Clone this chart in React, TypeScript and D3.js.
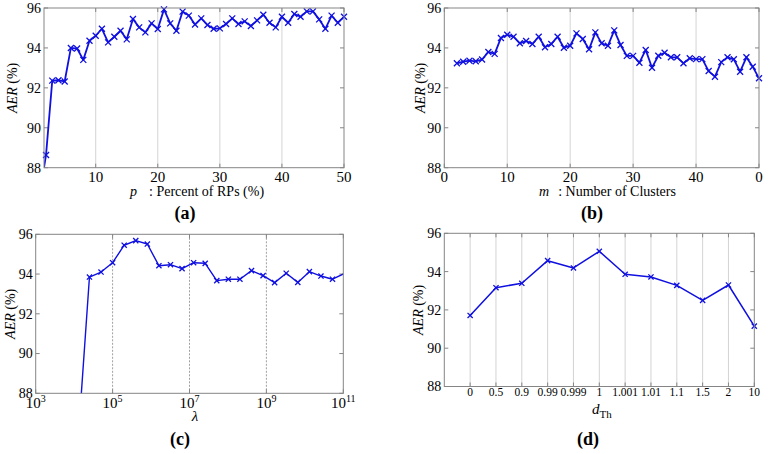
import React from "react";
import * as d3 from "d3";

// ---------- data ----------
const yTicks = [88, 90, 92, 94, 96];

// (a) p : Percent of RPs (%)
const aP = d3.range(1, 51);
const aAER = [
  86.7, 88.64, 92.36, 92.38, 92.32, 94.0, 93.97, 93.4, 94.36, 94.61,
  94.96, 94.28, 94.56, 94.86, 94.43, 95.45, 95.03, 94.78, 95.23, 94.95,
  95.93, 95.23, 94.86, 95.82, 95.62, 95.17, 95.48, 95.15, 94.96, 94.98,
  95.2, 95.48, 95.2, 95.33, 95.1, 95.38, 95.66, 95.26, 95.03, 95.56,
  95.26, 95.7, 95.56, 95.83, 95.83, 95.43, 94.96, 95.62, 95.26, 95.56,
];
const aTicks = [10, 20, 30, 40, 50];

// (b) m : Number of Clusters
const bM = d3.range(2, 51);
const bAER = [
  93.23, 93.31, 93.36, 93.33, 93.42, 93.8, 93.7, 94.5, 94.66,
  94.56, 94.23, 94.35, 94.2, 94.56, 94.03, 94.2, 94.56, 94.01, 94.11,
  94.73, 94.45, 93.93, 94.78, 94.23, 94.11, 94.88, 94.15, 93.6, 93.6,
  93.26, 93.9, 93.01, 93.61, 93.76, 93.53, 93.53, 93.23, 93.48, 93.44,
  93.44, 92.84, 92.56, 93.29, 93.53, 93.43, 92.81, 93.53, 93.06, 92.48,
];
const bTicks = [0, 10, 20, 30, 40, 50];
const bTickLabels = ["0", "10", "20", "30", "40", "0"];

// (c) lambda
const cLambda = [
  12500, 25000, 50000, 1e5, 2e5, 4e5, 8e5, 1.6e6, 3.2e6, 6.4e6, 1.28e7,
  2.56e7, 5.12e7, 1.024e8, 2.048e8, 4.096e8, 8.192e8, 1.6384e9, 3.2768e9,
  6.5536e9, 1.31072e10, 2.62144e10, 5.24288e10, 1.048576e11,
];
const cAER = [
  85.5, 93.85, 94.1, 94.57, 95.45, 95.68, 95.51, 94.42, 94.47, 94.27, 94.57,
  94.54, 93.67, 93.74, 93.74, 94.17, 93.92, 93.57, 94.04, 93.58, 94.12,
  93.9, 93.74, 94.02,
];
const cTickExp = [3, 5, 7, 9, 11];

// (d) d_Th
const dCats = ["0", "0.5", "0.9", "0.99", "0.999", "1", "1.001", "1.01", "1.1", "1.5", "2", "10"];
const dAER = [91.71, 93.16, 93.39, 94.57, 94.19, 95.06, 93.86, 93.72, 93.28, 92.5, 93.3, 91.15];

// ---------- style ----------
const BLUE = "#1010e0";
const AXIS = "#858585";
const TXT: React.CSSProperties = { fontFamily: "Liberation Serif" };

type PanelProps = {
  id: string;
  left: number;
  right: number;
  top: number;
  bottom: number;
  xs: number[];
  ys: number[];
  xScale: (v: number) => number;
  xDomain: [number, number];
  xTickVals: number[];
  xTickLabels: React.ReactNode[];
  xTickFont: number;
  xTickBaseline: number;
  gridVals: number[];
  gridStroke: string;
  gridDash?: string;
  markerR: number;
  lineW: number;
  yLabelX: number;
  children?: React.ReactNode;
};

function Panel(p: PanelProps) {
  const y = d3.scaleLinear().domain([88, 96]).range([p.bottom, p.top]);
  const pts: [number, number][] = p.xs.map((v, i) => [p.xScale(v), y(p.ys[i])]);
  const line = d3.line<[number, number]>().x((d) => d[0]).y((d) => d[1]);
  const cy = (p.top + p.bottom) / 2;
  const inDom = (v: number) => v >= p.xDomain[0] - 1e-9 && v <= p.xDomain[1] + 1e-9;
  return (
    <g>
      <defs>
        <clipPath id={p.id}>
          <rect x={p.left} y={p.top} width={p.right - p.left} height={p.bottom - p.top} />
        </clipPath>
      </defs>
      <rect x={p.left} y={p.top} width={p.right - p.left} height={p.bottom - p.top} fill="#fff" />
      {p.gridVals.map((g) => (
        <line
          key={"g" + g}
          x1={p.xScale(g)}
          x2={p.xScale(g)}
          y1={p.top}
          y2={p.bottom}
          stroke={p.gridStroke}
          strokeWidth={1}
          strokeDasharray={p.gridDash}
        />
      ))}
      {yTicks.map((t) => (
        <g key={"y" + t}>
          <line x1={p.left} x2={p.left + 4} y1={y(t)} y2={y(t)} stroke={AXIS} />
          <line x1={p.right} x2={p.right - 4} y1={y(t)} y2={y(t)} stroke={AXIS} />
          <text x={p.left - 3} y={y(t)} dy="0.35em" textAnchor="end" fontSize={14} style={TXT}>
            {t}
          </text>
        </g>
      ))}
      {p.xTickVals.map((t, i) => (
        <g key={"x" + t}>
          <line x1={p.xScale(t)} x2={p.xScale(t)} y1={p.bottom} y2={p.bottom - 4} stroke={AXIS} />
          <line x1={p.xScale(t)} x2={p.xScale(t)} y1={p.top} y2={p.top + 4} stroke={AXIS} />
          <text x={p.xScale(t)} y={p.xTickBaseline} textAnchor="middle" fontSize={p.xTickFont} style={TXT}>
            {p.xTickLabels[i]}
          </text>
        </g>
      ))}
      <g clipPath={`url(#${p.id})`}>
        <path d={line(pts) || ""} fill="none" stroke={BLUE} strokeWidth={p.lineW} strokeLinejoin="round" />
      </g>
      {pts.map((d, i) =>
        inDom(p.xs[i]) && p.ys[i] >= 88 ? (
          <path
            key={"m" + i}
            d={`M${d[0] - p.markerR},${d[1] - p.markerR}L${d[0] + p.markerR},${d[1] + p.markerR}M${d[0] - p.markerR},${d[1] + p.markerR}L${d[0] + p.markerR},${d[1] - p.markerR}`}
            stroke={BLUE}
            strokeWidth={1.3}
          />
        ) : null
      )}
      <rect
        x={p.left}
        y={p.top}
        width={p.right - p.left}
        height={p.bottom - p.top}
        fill="none"
        stroke={AXIS}
        strokeWidth={1}
      />
      <text
        transform={`translate(${p.yLabelX},${cy}) rotate(-90)`}
        textAnchor="middle"
        dy="0.35em"
        fontSize={14}
        style={TXT}
      >
        <tspan fontStyle="italic">AER</tspan> (%)
      </text>
      {p.children}
    </g>
  );
}

function PanelLabel({ x, y, t }: { x: number; y: number; t: string }) {
  return (
    <text x={x} y={y} textAnchor="middle" fontSize={18} fontWeight="bold" style={TXT}>
      ({t})
    </text>
  );
}

export default function App() {
  const W = 769;
  const H = 454;

  const ax = d3.scaleLinear().domain([1.67, 50]).range([44, 344]);
  const bx = d3.scaleLinear().domain([0, 50]).range([444.3, 759]);
  const cx = d3.scaleLog().domain([1e3, 1e11]).range([35.7, 343.3]);
  const dx = d3.scaleLinear().domain([-1, 11]).range([444.3, 754.3]);
  const dIdx = dCats.map((_, i) => i);

  return (
    <svg width={W} height={H} style={{ position: "absolute", left: 0, top: 0, background: "#fff" }}>
      <rect width={W} height={H} fill="#fff" />
      <Panel
        id="clipA"
        left={44}
        right={344}
        top={8}
        bottom={167.7}
        xs={aP}
        ys={aAER}
        xScale={ax}
        xDomain={[1.67, 50]}
        xTickVals={aTicks}
        xTickLabels={aTicks.map(String)}
        xTickFont={15}
        xTickBaseline={182}
        gridVals={[10, 20, 30, 40]}
        gridStroke="#d4d4d4"
        markerR={3}
        lineW={1.8}
        yLabelX={12}
      >
        <text x={130} y={196} fontSize={14} style={TXT}>
          <tspan fontStyle="italic">p</tspan>
          <tspan dx={12}>: Percent of RPs (%)</tspan>
        </text>
      </Panel>
      <PanelLabel x={185} y={219} t="a" />

      <Panel
        id="clipB"
        left={444.3}
        right={759}
        top={8}
        bottom={167.7}
        xs={bM}
        ys={bAER}
        xScale={bx}
        xDomain={[0, 50]}
        xTickVals={bTicks}
        xTickLabels={bTickLabels}
        xTickFont={15}
        xTickBaseline={182}
        gridVals={[10, 20, 30, 40]}
        gridStroke="#d4d4d4"
        markerR={3}
        lineW={1.8}
        yLabelX={420}
      >
        <text x={539} y={196} fontSize={14} style={TXT}>
          <tspan fontStyle="italic">m</tspan>
          <tspan dx={9}>: Number of Clusters</tspan>
        </text>
      </Panel>
      <PanelLabel x={592} y={219} t="b" />

      <Panel
        id="clipC"
        left={35.7}
        right={343.3}
        top={234.3}
        bottom={393.3}
        xs={cLambda}
        ys={cAER}
        xScale={cx}
        xDomain={[1e3, 1e11]}
        xTickVals={cTickExp.map((e) => Math.pow(10, e))}
        xTickLabels={cTickExp.map((e) => (
          <>
            10
            <tspan fontSize={10} dy={-6}>
              {e}
            </tspan>
          </>
        ))}
        xTickFont={15}
        xTickBaseline={408}
        gridVals={[1e5, 1e7, 1e9]}
        gridStroke="#a0a0a0"
        gridDash="2,1.5"
        markerR={2.6}
        lineW={1.4}
        yLabelX={10}
      >
        <text x={195} y={421} textAnchor="middle" fontSize={15} fontStyle="italic" style={TXT}>
          λ
        </text>
      </Panel>
      <PanelLabel x={180} y={445} t="c" />

      <Panel
        id="clipD"
        left={444.3}
        right={754.3}
        top={233.3}
        bottom={386.5}
        xs={dIdx}
        ys={dAER}
        xScale={dx}
        xDomain={[-1, 11]}
        xTickVals={dIdx}
        xTickLabels={dCats}
        xTickFont={11.5}
        xTickBaseline={396}
        gridVals={dIdx.slice(0, 11)}
        gridStroke="#d4d4d4"
        markerR={2.6}
        lineW={1.5}
        yLabelX={418}
      >
        <text x={592} y={414} fontSize={15} style={TXT}>
          <tspan fontStyle="italic">d</tspan>
          <tspan fontSize={11} dy={4}>
            Th
          </tspan>
        </text>
      </Panel>
      <PanelLabel x={588} y={445} t="d" />
    </svg>
  );
}
